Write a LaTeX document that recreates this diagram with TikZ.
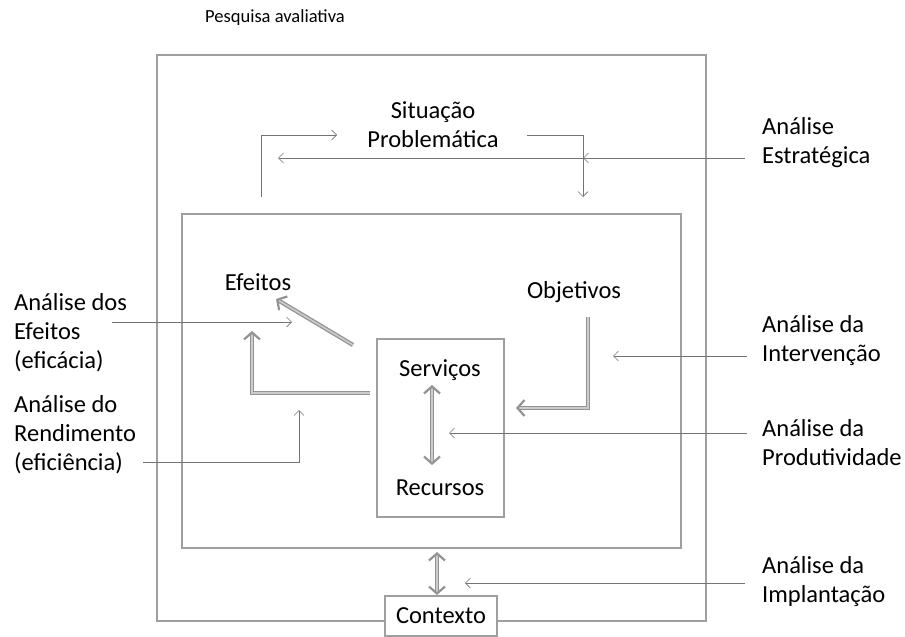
\documentclass[tikz,border=0pt]{standalone}
\usepackage{fontspec}
\setmainfont{Carlito}
\usepackage{tikz}
\usetikzlibrary{arrows.meta,positioning}
\tikzset{
  moldura/.style={draw=gray!75,line width=2pt},
  caixa/.style={draw=gray!75,line width=1.3pt},
  fina/.style={draw=gray!90!black,line width=0.6pt,-{Straight Barb[length=5pt,width=10pt]}},
  ponta/.tip={Straight Barb[length=7pt,width=16pt,line width=2.2pt]},
  grossa/.style={draw=gray!85,double=gray!40,double distance=1.6pt,line width=1.3pt,-ponta},
  rotulo/.style={align=left,anchor=west,inner sep=0pt,font=\fontsize{24.5}{29}\selectfont},
  texto/.style={inner sep=0pt,font=\fontsize{24.5}{29}\selectfont}
}

\begin{document}
\begin{tikzpicture}[x=1pt,y=-1pt]
\useasboundingbox (0,0) rectangle (905,637);
% molduras
\node[anchor=west,inner sep=0pt,font=\fontsize{18.5}{20}\selectfont] (titulo) at (205,18) {Pesquisa avaliativa};
\draw[moldura] (157,55) rectangle (706,621);
\draw[caixa] (182,214) rectangle (681,548);

% situacao problematica
\node[texto,align=center] (situacao) at (433,125) {Situação\\Problemática};
\coordinate (sitA) at (261,197); \coordinate (sitB) at (337,135);
\coordinate (sitC) at (527,135); \coordinate (sitD) at (583,197);
\draw[fina] (sitA) |- (sitB);
\draw[fina] (sitC) -| (sitD);

% interior
\node[texto] (efeitos) at (258,282) {Efeitos};
\node[texto] (objetivos) at (574,292) {Objetivos};
\node[caixa,minimum width=127pt,minimum height=178pt] (servicos) at (440.5,428) {};
\node[texto] (servtxt) at (440,370) {Serviços};
\node[texto] (recursos) at (440,488) {Recursos};
\node[caixa,fill=white,texto,minimum width=112pt,minimum height=40pt] (contexto) at (441,616) {Contexto};

\coordinate (sv1) at (432,385); \coordinate (sv2) at (432,465);
\draw[grossa,ponta-ponta] (sv1) -- (sv2);
\coordinate (ef1) at (353,345); \coordinate (ef2) at (276,299);
\draw[grossa] (ef1) -- (ef2);
\coordinate (sa1) at (370,393); \coordinate (sa2) at (252,331);
\draw[grossa] (sa1) -| (sa2);
\coordinate (ob1) at (588,317); \coordinate (ob2) at (516,408);
\draw[grossa] (ob1) |- (ob2);
\coordinate (ct1) at (437,552); \coordinate (ct2) at (437,595);
\draw[grossa,ponta-ponta] (ct1) -- (ct2);

% analises a esquerda
\node[rotulo] (aefeitos) at (14,333) {Análise dos\\Efeitos\\(eficácia)};
\node[rotulo] (arend) at (14,435) {Análise do\\Rendimento\\(eficiência)};
\coordinate (ae1) at (112,322); \coordinate (ae2) at (292,322);
\draw[fina] (ae1) -- (ae2);
\coordinate (ar1) at (143,462); \coordinate (ar2) at (299,410);
\draw[fina] (ar1) -| (ar2);

% analises a direita
\node[rotulo] (aestr) at (762,142.5) {Análise\\Estratégica};
\node[rotulo] (ainter) at (762,341) {Análise da\\Intervenção};
\node[rotulo] (aprod) at (762,443) {Análise da\\Produtividade};
\node[rotulo] (aimpl) at (762,582) {Análise da\\Implantação};
\coordinate (es1) at (745,158); \coordinate (es2) at (583,158); \coordinate (es3) at (278,158);
\draw[fina] (es1) -- (es2);
\draw[fina] (es2) -- (es3);
\coordinate (in1) at (747,356); \coordinate (in2) at (613,356);
\draw[fina] (in1) -- (in2);
\coordinate (pr1) at (747,433); \coordinate (pr2) at (449,433);
\draw[fina] (pr1) -- (pr2);
\coordinate (im1) at (745,583); \coordinate (im2) at (465,583);
\draw[fina] (im1) -- (im2);
\end{tikzpicture}
\end{document}
